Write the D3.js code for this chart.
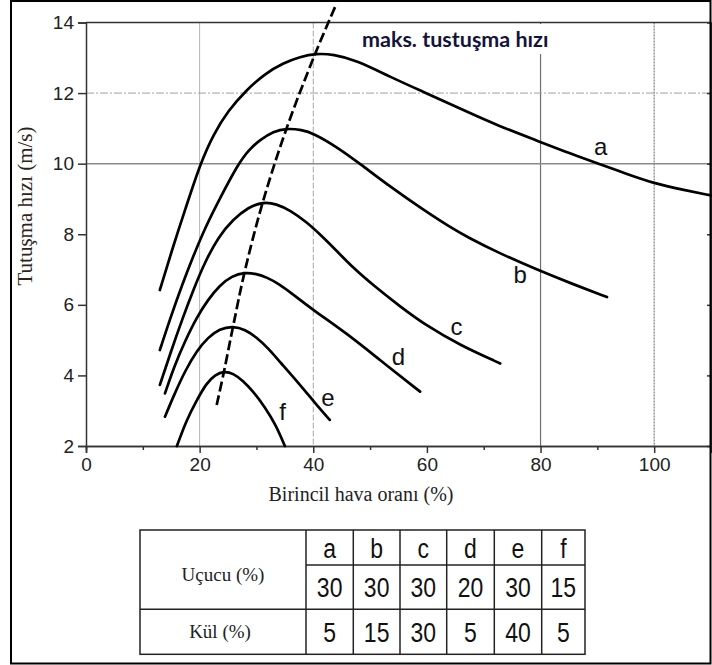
<!DOCTYPE html>
<html>
<head>
<meta charset="utf-8">
<script src="https://cdn.jsdelivr.net/npm/d3@7"></script>
<style>
  html, body { margin: 0; padding: 0; background: #fff; }
  svg { display: block; }
</style>
</head>
<body>
<svg id="chart" width="712" height="665"></svg>
<script>
// Ignition velocity vs. primary air ratio for six coals (a–f)
const curveNames = ["a", "b", "c", "d", "e", "f"];

// [primary air %, ignition velocity m/s]
const curveA = [[13.0,6.42],[15.3,7.64],[17.5,8.72],[20.1,10.0],[22.5,10.85],[25.0,11.5],[28.3,12.1],[31.5,12.55],[34.7,12.85],[37.7,13.03],[40.5,13.12],[43.5,13.1],[47.6,12.93],[53.5,12.46],[60.0,11.99],[66.4,11.52],[72.3,11.09],[79.9,10.62],[85.0,10.3],[90.5,9.98],[95.0,9.72],[100.0,9.44],[105.0,9.26],[110.0,9.1]];
const curveB = [[13.0,4.72],[15.0,5.7],[17.0,6.6],[18.6,7.27],[21.0,8.2],[23.5,9.0],[26.8,10.0],[28.7,10.4],[30.6,10.67],[33.0,10.92],[35.3,11.0],[38.0,10.96],[40.0,10.86],[44.1,10.48],[48.2,10.0],[53.5,9.35],[59.4,8.69],[64.1,8.2],[67.0,7.93],[72.9,7.45],[79.6,6.98],[85.8,6.58],[91.7,6.22]];
const curveC = [[13.0,3.73],[15.0,4.7],[17.0,5.62],[19.0,6.47],[20.9,7.2],[23.3,7.93],[25.9,8.42],[28.5,8.76],[31.2,8.92],[33.5,8.86],[35.9,8.68],[38.8,8.35],[41.5,7.95],[44.0,7.55],[47.0,7.05],[50.6,6.55],[55.3,5.95],[60.0,5.4],[65.8,4.86],[72.9,4.34]];
const curveD = [[13.9,3.49],[15.5,4.25],[17.5,5.0],[19.5,5.65],[21.5,6.15],[23.5,6.55],[25.7,6.82],[27.9,6.92],[30.0,6.88],[31.8,6.78],[34.1,6.58],[36.0,6.35],[40.0,5.85],[45.9,5.19],[51.7,4.44],[58.8,3.54]];
const curveE = [[13.9,2.83],[15.5,3.45],[17.5,4.15],[19.5,4.7],[21.5,5.08],[23.5,5.32],[25.9,5.4],[28.0,5.3],[30.0,5.08],[32.0,4.78],[34.1,4.39],[37.7,3.73],[40.3,3.22],[42.9,2.74]];
const curveF = [[16.0,2.0],[17.7,2.74],[19.5,3.3],[21.2,3.78],[22.7,4.02],[24.3,4.12],[26.0,4.05],[27.6,3.85],[29.4,3.55],[31.5,3.1],[33.4,2.6],[35.0,2.0]];

// locus of the maximum ignition velocity
const maxLocus = [[23.0,3.16],[24.3,4.12],[25.9,5.4],[27.9,6.92],[31.1,8.9],[35.3,11.0],[40.3,13.1],[44.0,14.5]];

// curve label anchor points [x, y] in data units (text baseline)
const labelPos = [[90.6,10.24],[76.4,6.61],[65.2,5.14],[55.0,4.29],[42.6,3.14],[34.6,2.74]];

const xTicks = [0, 20, 40, 60, 80, 100];
const xMinorTicks = [10, 30, 50, 70, 90, 110];
const yTicks = [2, 4, 6, 8, 10, 12, 14];

// properties table
const tableCols = ["a", "b", "c", "d", "e", "f"];
const volatiles = [30, 30, 30, 20, 30, 15];
const ash = [5, 15, 30, 5, 40, 5];
const rowLabels = ["Uçucu (%)", "Kül (%)"];

const svg = d3.select("#chart");
svg.append("rect").attr("width", 712).attr("height", 665).attr("fill", "#fff");

const x = d3.scaleLinear().domain([0, 110]).range([86, 711]);
const y = d3.scaleLinear().domain([2, 14]).range([446, 22.5]);

// grid lines
const grid = svg.append("g");
const vGrid = [
  {v: 20, stroke: "#b4b4b4", dash: null, w: 1},
  {v: 40, stroke: "#a8a8a8", dash: "6,2", w: 1},
  {v: 80, stroke: "#707070", dash: null, w: 1.2},
  {v: 100, stroke: "#808080", dash: "2,1", w: 1.2}
];
vGrid.forEach(g => grid.append("line")
  .attr("x1", x(g.v)).attr("x2", x(g.v)).attr("y1", y(14)).attr("y2", y(2))
  .attr("stroke", g.stroke).attr("stroke-width", g.w).attr("stroke-dasharray", g.dash));
const hGrid = [
  {v: 12, stroke: "#a0a0a0", dash: "8,2,2,2", w: 1},
  {v: 10, stroke: "#8c8c8c", dash: null, w: 1.5}
];
hGrid.forEach(g => grid.append("line")
  .attr("x1", x(0)).attr("x2", x(110)).attr("y1", y(g.v)).attr("y2", y(g.v))
  .attr("stroke", g.stroke).attr("stroke-width", g.w).attr("stroke-dasharray", g.dash));

// title of the dashed locus, on a white patch over the grid
svg.append("rect").attr("x", 356).attr("y", 24).attr("width", 204).attr("height", 30).attr("fill", "#fff");
svg.append("text")
  .attr("x", 362).attr("y", 47)
  .attr("font-family", "Lato, 'Open Sans', sans-serif")
  .attr("font-weight", "bold")
  .attr("font-size", 21.5)
  .attr("fill", "#14143a")
  .text("maks. tustuşma hızı");

// axes
const axisColor = "#333";
const xAxis = svg.append("g").attr("transform", `translate(0,${y(2)})`)
  .call(d3.axisBottom(x).tickValues(xTicks).tickSize(7).tickPadding(5).tickFormat(d3.format("d")));
const xMinor = svg.append("g").attr("transform", `translate(0,${y(2)})`)
  .call(d3.axisBottom(x).tickValues(xMinorTicks).tickSize(4).tickFormat(""));
const yAxis = svg.append("g").attr("transform", `translate(${x(0)},0)`)
  .call(d3.axisLeft(y).tickValues(yTicks).tickSize(8).tickPadding(4).tickFormat(d3.format("d")));
const yRight = svg.append("g").attr("transform", `translate(${x(110)},0)`)
  .call(d3.axisLeft(y).tickValues(yTicks).tickSize(-4).tickFormat(""));
[xAxis, xMinor, yAxis, yRight].forEach(a => {
  a.select(".domain").attr("stroke", axisColor).attr("stroke-width", 1.5);
  a.selectAll(".tick line").attr("stroke", axisColor).attr("stroke-width", 1.5);
  a.selectAll(".tick text").attr("font-family", "'Liberation Sans', Arial, sans-serif")
    .attr("font-size", 19).attr("fill", "#222");
});
yRight.selectAll(".tick line").attr("x2", -4);
// top frame
svg.append("line").attr("x1", x(0)).attr("x2", x(110)).attr("y1", y(14)).attr("y2", y(14))
  .attr("stroke", axisColor).attr("stroke-width", 1.5);

// curves
const line = d3.line().x(d => x(d[0])).y(d => y(d[1])).curve(d3.curveBasis);
const curves = [curveA, curveB, curveC, curveD, curveE, curveF];
svg.append("g").selectAll("path").data(curves).join("path")
  .attr("d", line)
  .attr("fill", "none").attr("stroke", "#000").attr("stroke-width", 2.7)
  .attr("stroke-linecap", "round");

// maximum locus (dashed)
svg.append("path").datum(maxLocus)
  .attr("d", d3.line().x(d => x(d[0])).y(d => y(d[1])).curve(d3.curveCatmullRom.alpha(0.5)))
  .attr("fill", "none").attr("stroke", "#000").attr("stroke-width", 2.7)
  .attr("stroke-dasharray", "10,4");

// curve labels
svg.append("g").selectAll("text").data(curveNames).join("text")
  .attr("x", (d, i) => x(labelPos[i][0])).attr("y", (d, i) => y(labelPos[i][1]))
  .attr("text-anchor", "middle")
  .attr("font-family", "'Liberation Sans', Arial, sans-serif")
  .attr("font-size", 24).attr("fill", "#111")
  .text(d => d);

// axis titles
svg.append("text")
  .attr("transform", `translate(32,206) rotate(-90)`)
  .attr("text-anchor", "middle")
  .attr("font-family", "'Liberation Serif', 'Times New Roman', serif")
  .attr("font-size", 21).attr("fill", "#2e2418")
  .text("Tutuşma hızı (m/s)");
svg.append("text")
  .attr("x", 361).attr("y", 501)
  .attr("text-anchor", "middle")
  .attr("font-family", "'Liberation Serif', 'Times New Roman', serif")
  .attr("font-size", 20).attr("fill", "#222")
  .text("Birincil hava oranı (%)");

// table
const colEdges = [306, 353.3, 400, 446.7, 494.3, 541.7, 585];
const tLeft = 140, tTop = 530, rowEdges = [530, 565, 609.3, 654.3];
const tg = svg.append("g");
const tStroke = "#222";
tg.append("rect").attr("x", tLeft).attr("y", tTop)
  .attr("width", colEdges[6] - tLeft).attr("height", rowEdges[3] - tTop)
  .attr("fill", "none").attr("stroke", tStroke).attr("stroke-width", 1.5);
colEdges.slice(0, 6).forEach(cx => tg.append("line")
  .attr("x1", cx).attr("x2", cx).attr("y1", tTop).attr("y2", rowEdges[3])
  .attr("stroke", tStroke).attr("stroke-width", 1.5));
tg.append("line").attr("x1", colEdges[0]).attr("x2", colEdges[6])
  .attr("y1", rowEdges[1]).attr("y2", rowEdges[1]).attr("stroke", tStroke).attr("stroke-width", 1.5);
tg.append("line").attr("x1", tLeft).attr("x2", colEdges[6])
  .attr("y1", rowEdges[2]).attr("y2", rowEdges[2]).attr("stroke", tStroke).attr("stroke-width", 1.5);

const cellFont = "'Liberation Sans', Arial, sans-serif";
const rowsData = [tableCols, volatiles, ash];
rowsData.forEach((row, r) => {
  row.forEach((v, c) => {
    const cx = (colEdges[c] + colEdges[c + 1]) / 2;
    const cy = (rowEdges[r] + rowEdges[r + 1]) / 2 + 10;
    tg.append("text")
      .attr("transform", `translate(${cx},${cy}) scale(0.92,1.12)`)
      .attr("text-anchor", "middle")
      .attr("font-family", cellFont).attr("font-size", 25).attr("fill", "#111")
      .text(v);
  });
});
tg.append("text").attr("x", 223).attr("y", 581)
  .attr("text-anchor", "middle")
  .attr("font-family", "'Liberation Serif', 'Times New Roman', serif")
  .attr("font-size", 19).attr("fill", "#222").text(rowLabels[0]);
tg.append("text").attr("x", 220).attr("y", 638)
  .attr("text-anchor", "middle")
  .attr("font-family", "'Liberation Serif', 'Times New Roman', serif")
  .attr("font-size", 19).attr("fill", "#222").text(rowLabels[1]);

// outer frame
svg.append("rect").attr("x", 11).attr("y", 1).attr("width", 699.5).attr("height", 662.5)
  .attr("fill", "none").attr("stroke", "#000").attr("stroke-width", 2);
</script>
</body>
</html>
